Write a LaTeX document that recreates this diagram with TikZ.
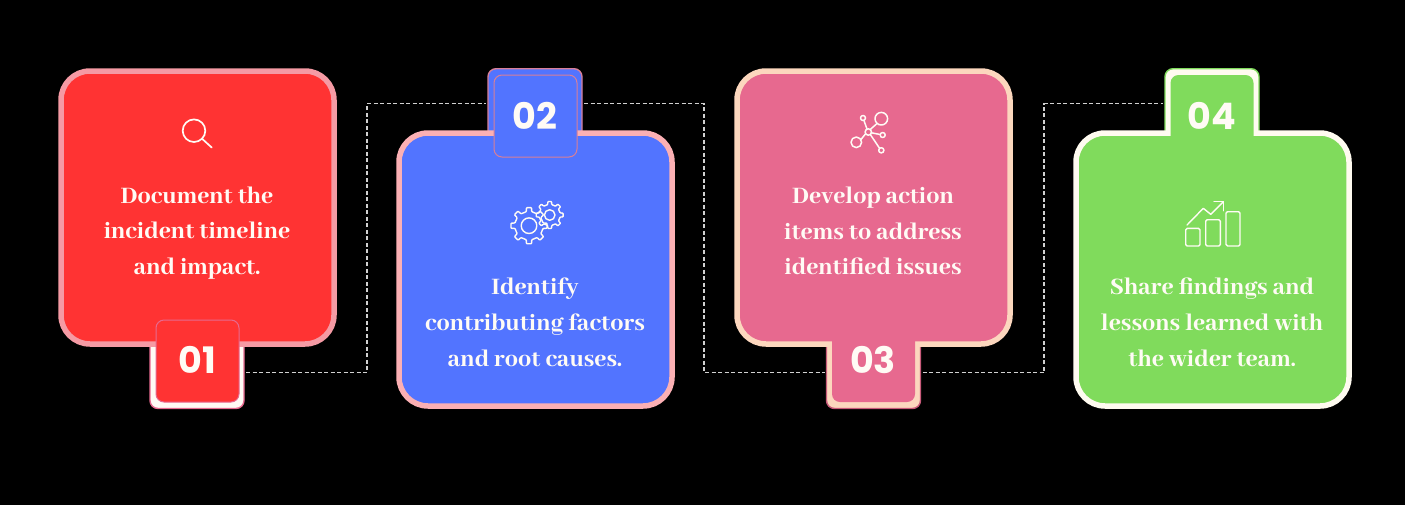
\documentclass[tikz,border=0pt]{standalone}
\usepackage{fontspec}
\newfontfamily\bodyfont{Abhaya Libre}[BoldFont={Abhaya Libre ExtraBold}]
\newfontfamily\numfont{Poppins}[BoldFont={Poppins Bold}]
\definecolor{redf}{HTML}{FF3333}
\definecolor{reds}{HTML}{F59AA4}
\definecolor{bluef}{HTML}{5274FF}
\definecolor{blues}{HTML}{FBB0B4}
\definecolor{pinkf}{HTML}{E7698F}
\definecolor{pinks}{HTML}{FCD7BE}
\definecolor{greenf}{HTML}{80DB5C}
\definecolor{greens}{HTML}{FFFBF0}
\definecolor{cream}{HTML}{FFFBF5}
\definecolor{tabedge}{HTML}{D87F98}
\definecolor{tabedgedark}{HTML}{C85A7A}
\tikzset{
  x=1pt,y=-1pt,
  card/.style={draw=#1,line width=5.5pt,rounded corners=29pt,minimum width=273pt,minimum height=273pt,inner sep=0pt,outer sep=0pt},
  tabouter/.style={line width=1.4pt,rounded corners=8pt,minimum width=94pt,minimum height=#1,inner sep=0pt,outer sep=0pt},
  tabinner/.style={rounded corners=8pt,minimum width=83pt,minimum height=82pt,inner sep=0pt,outer sep=0pt},
  num/.style={font=\numfont\bfseries\fontsize{36.5}{36.5}\selectfont,text=cream,inner sep=0pt},
  body/.style={font=\bodyfont\bfseries\fontsize{26}{35.8}\selectfont,text=cream,align=center,inner sep=0pt},
  link/.style={draw=white!82!black,line width=1.3pt,dash pattern=on 4pt off 2.5pt,shorten <=2pt,shorten >=2pt},
  icon/.style={draw=cream,line width=1.7pt,line cap=round,line join=round},
}
\newcommand{\gearpath}[4]{% x y root outer
  \begin{scope}[shift={(#1,#2)}]
  \draw[icon,line width=1.4pt,rounded corners=0.7pt]
    (-11:#3) \foreach \a in {0,45,...,315} { -- (\a-11:#3) -- (\a-8:#4) -- (\a+8:#4) -- (\a+11:#3) } -- cycle;
  \end{scope}}
\begin{document}
\begin{tikzpicture}
\useasboundingbox (0,0) rectangle (1405,504);
\fill[black] (-2,-2) rectangle (1407,506);

\coordinate (c1) at (367,237);
\coordinate (c2) at (704,237);
\coordinate (c3) at (1044,237);

% tabs behind cards
\node[tabouter=72pt,fill=cream,draw=pinkf] (t1) at (197,372.5) {};
\node[tabouter=70pt,fill=bluef,draw=tabedge] (t2) at (535,103.7) {};
\node[tabouter=72pt,fill=pinks,draw=tabedgedark] (t3) at (873.5,372.5) {};
\node[tabouter=70pt,fill=greens,draw=greenf] (t4) at (1212,103.7) {};

% cards
\node[card=reds,fill=redf] (k1) at (197.5,207.5) {};
\node[card=blues,fill=bluef] (k2) at (535.5,269.5) {};
\node[card=pinks,fill=pinkf] (k3) at (873.5,207.5) {};
\node[card=greens,fill=greenf] (k4) at (1212.5,269.5) {};

% inner boxes
\node[tabinner,fill=redf,draw=pinkf,line width=1pt] (b1) at (197.5,361) {};
\node[tabinner,fill=bluef,draw=tabedge,line width=1pt] (b2) at (535.5,116) {};
\node[tabinner,fill=pinkf] (b3) at (873.5,361) {};
\node[tabinner,fill=greenf] (b4) at (1212,116) {};

% numbers
\node[num] (n1) at (197,360) {01};
\node[num] (n2) at (535,116) {02};
\node[num] (n3) at (873,360) {03};
\node[num] (n4) at (1212,116) {04};

% text
\node[body] (x1) at (197,233) {Document the\\incident timeline\\and impact.};
\node[body] (x2) at (535,322.5) {Identify\\contributing factors\\and root causes.};
\node[body] (x3) at (873,231) {Develop action\\items to address\\identified issues};
\node[body] (x4) at (1212,322.5) {Share findings and\\lessons learned with\\the wider team.};

% connectors
\draw[link] (t1.east) -| (c1) |- (t2.west);
\draw[link] (t2.east) -| (c2) |- (t3.west);
\draw[link] (t3.east) -| (c3) |- (t4.west);

% magnifier
\draw[icon] (194,130.7) circle (11.3);
\draw[icon] (201.9,138.6) -- (211.7,147.5);

% gears
\gearpath{549.7}{215}{10.6}{13.6}
\gearpath{529}{225.7}{14.3}{18.2}
\draw[icon,line width=1.4pt] (549.7,215) circle (5.3);
\draw[icon,line width=1.4pt] (529,225.7) circle (7.8);

% network
\draw[icon,line width=1.5pt] (881.3,118.7) circle (6.3);
\draw[icon,line width=1.5pt] (856.3,142.3) circle (5.3);
\draw[icon,line width=1.5pt] (863,118) circle (2.5);
\draw[icon,line width=1.5pt] (882.7,135) circle (2.5);
\draw[icon,line width=1.5pt] (881.3,150.3) circle (2.6);
\draw[icon,line width=1.5pt] (868.3,132) circle (3.2);
\draw[icon,line width=1.5pt] (863.9,120.4) -- (867,129);
\draw[icon,line width=1.5pt] (870.2,129.5) -- (877,123.5);
\draw[icon,line width=1.5pt] (871.4,132.8) -- (880.2,134.5);
\draw[icon,line width=1.5pt] (870.3,134.5) -- (879.6,148.3);
\draw[icon,line width=1.5pt] (860.9,139.6) -- (865.6,133.7);

% chart
\draw[icon,line width=1.4pt,rounded corners=1.5pt] (1185.7,228.3) rectangle (1200,246);
\draw[icon,line width=1.4pt,rounded corners=1.5pt] (1205.7,219.7) rectangle (1220.3,246);
\draw[icon,line width=1.4pt,rounded corners=1.5pt] (1226,211.7) rectangle (1240,246);
\draw[icon,line width=1.4pt] (1187,225) -- (1203.3,208.3) -- (1210.7,214.3) -- (1223.3,201.7);
\draw[icon,line width=1.4pt] (1214,201.7) -- (1223.7,201.7) -- (1223.7,210.7);
\end{tikzpicture}
\end{document}
